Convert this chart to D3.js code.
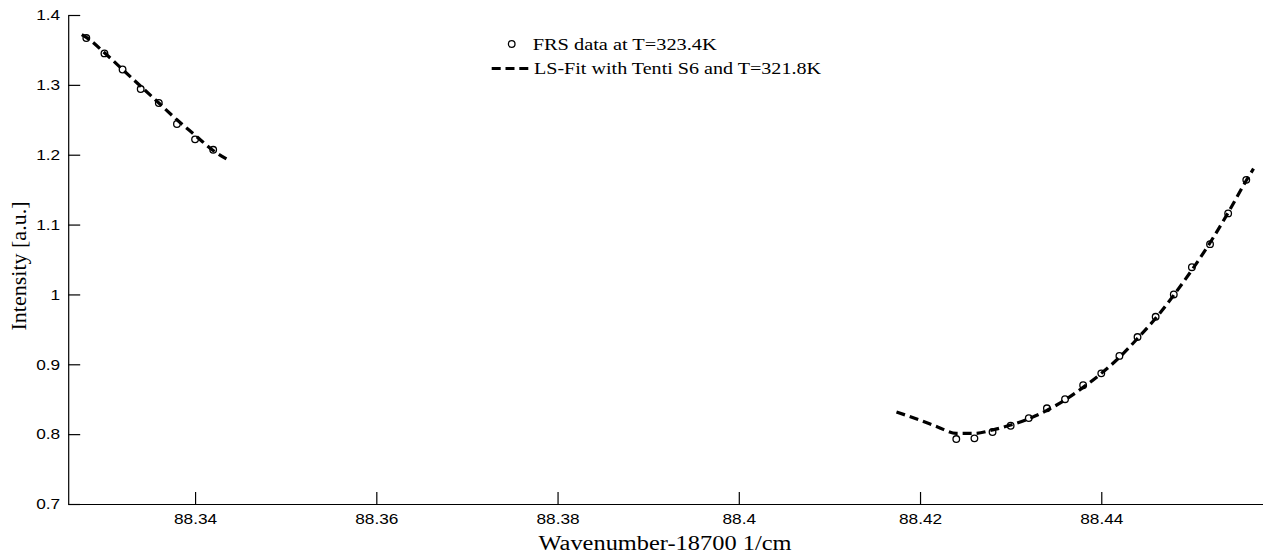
<!DOCTYPE html>
<html>
<head>
<meta charset="utf-8">
<script src="https://cdn.jsdelivr.net/npm/d3@7"></script>
<style>
  html, body { margin: 0; padding: 0; background: #fff; }
  svg { display: block; }
</style>
</head>
<body>
<div id="chart"></div>
<script>
// ---------- data ----------
const xTicks = [88.34, 88.36, 88.38, 88.40, 88.42, 88.44];
const xTickLabels = ["88.34", "88.36", "88.38", "88.4", "88.42", "88.44"];
const yTicks = [0.7, 0.8, 0.9, 1.0, 1.1, 1.2, 1.3, 1.4];
const yTickLabels = ["0.7", "0.8", "0.9", "1", "1.1", "1.2", "1.3", "1.4"];

const dataLeftX = [88.328, 88.330, 88.332, 88.334, 88.336, 88.338, 88.340, 88.342];
const dataLeftY = [1.367, 1.345, 1.322, 1.294, 1.274, 1.244, 1.222, 1.207];
const dataRightX = [88.424, 88.426, 88.428, 88.430, 88.432, 88.434, 88.436, 88.438, 88.440,
                    88.442, 88.444, 88.446, 88.448, 88.450, 88.452, 88.454, 88.456];
const dataRightY = [0.793, 0.794, 0.803, 0.812, 0.823, 0.837, 0.850, 0.870, 0.887,
                    0.912, 0.939, 0.968, 1.000, 1.039, 1.072, 1.116, 1.164];

const fitLeftX = [88.3275, 88.328, 88.330, 88.332, 88.334, 88.336, 88.338, 88.340, 88.342, 88.3436];
const fitLeftY = [1.372, 1.368, 1.346, 1.322, 1.298, 1.274, 1.250, 1.228, 1.206, 1.193];
const fitRightX = [88.4174, 88.420, 88.422, 88.424, 88.426, 88.428, 88.430, 88.432, 88.434, 88.436,
                   88.438, 88.440, 88.442, 88.444, 88.446, 88.448, 88.450, 88.452, 88.454, 88.456, 88.4568];
const fitRightY = [0.8317, 0.820, 0.810, 0.801, 0.801, 0.806, 0.813, 0.822, 0.834, 0.849,
                   0.867, 0.887, 0.910, 0.937, 0.966, 0.999, 1.035, 1.074, 1.117, 1.163, 1.180];

const legendLabels = ["FRS data at T=323.4K", "LS-Fit with Tenti S6 and T=321.8K"];
const xTitle = "Wavenumber-18700 1/cm";
const yTitle = "Intensity [a.u.]";

// ---------- layout ----------
const W = 1263, H = 555;
const svg = d3.select("#chart").append("svg").attr("width", W).attr("height", H);
svg.append("rect").attr("width", W).attr("height", H).attr("fill", "#fff");

const x = d3.scaleLinear().domain([88.326, 88.458]).range([68.2, 1264.4]);
const y = d3.scaleLinear().domain([0.7, 1.4]).range([504, 15]);

function stretch(sel, k) {
  sel.each(function () {
    const w = this.getComputedTextLength();
    this.setAttribute("textLength", w * k);
    this.setAttribute("lengthAdjust", "spacingAndGlyphs");
  });
}

// axes
const xAxis = d3.axisBottom(x).tickValues(xTicks)
  .tickFormat((d, i) => xTickLabels[i]).tickSizeInner(-12).tickSizeOuter(0).tickPadding(9);
const gx = svg.append("g").attr("transform", `translate(0,${y(0.7)})`).call(xAxis);
gx.selectAll("text").attr("font-family", "'Liberation Sans', Arial, sans-serif")
  .attr("font-size", 15).attr("fill", "#000").attr("dy", "0.71em");
gx.selectAll("line, path").attr("stroke", "#000").attr("stroke-width", 1.2);
stretch(gx.selectAll("text"), 1.15);

const yAxis = d3.axisLeft(y).tickValues(yTicks)
  .tickFormat((d, i) => yTickLabels[i]).tickSizeInner(-12).tickSizeOuter(0).tickPadding(8);
const gy = svg.append("g").attr("transform", `translate(${x(88.326)},0)`).call(yAxis);
gy.selectAll("text").attr("font-family", "'Liberation Sans', Arial, sans-serif")
  .attr("font-size", 15).attr("fill", "#000");
gy.selectAll("line, path").attr("stroke", "#000").attr("stroke-width", 1.2);
stretch(gy.selectAll("text"), 1.15);

// titles
const xt = svg.append("text").attr("x", 665).attr("y", 550)
  .attr("text-anchor", "middle").attr("font-family", "'Liberation Serif', 'Times New Roman', serif")
  .attr("font-size", 20).attr("fill", "#000").text(xTitle);
stretch(xt, 1.22);

svg.append("text").attr("transform", "translate(26,266) rotate(-90)")
  .attr("text-anchor", "middle").attr("font-family", "'Liberation Serif', 'Times New Roman', serif")
  .attr("font-size", 22).attr("fill", "#000").text(yTitle);

// data circles
const pts = dataLeftX.map((d, i) => [d, dataLeftY[i]])
  .concat(dataRightX.map((d, i) => [d, dataRightY[i]]));
svg.append("g").selectAll("circle").data(pts).join("circle")
  .attr("cx", d => x(d[0])).attr("cy", d => y(d[1])).attr("r", 3.3)
  .attr("fill", "#fff").attr("stroke", "#000").attr("stroke-width", 1.3);

// fit lines
const line = d3.line().x(d => x(d[0])).y(d => y(d[1])).curve(d3.curveMonotoneX);
[[fitLeftX, fitLeftY], [fitRightX, fitRightY]].forEach(([xs, ys]) => {
  svg.append("path").datum(xs.map((d, i) => [d, ys[i]]))
    .attr("d", line).attr("fill", "none").attr("stroke", "#000")
    .attr("stroke-width", 3.2).attr("stroke-dasharray", "9,5");
});

// legend
const lg = svg.append("g");
lg.append("circle").attr("cx", 511.7).attr("cy", 44).attr("r", 3.3)
  .attr("fill", "#fff").attr("stroke", "#000").attr("stroke-width", 1.3);
lg.append("line").attr("x1", 491.7).attr("x2", 528.3).attr("y1", 68.5).attr("y2", 68.5)
  .attr("stroke", "#000").attr("stroke-width", 3.2).attr("stroke-dasharray", "9,4.8");
const lt1 = lg.append("text").attr("x", 532.7).attr("y", 50)
  .attr("font-family", "'Liberation Serif', 'Times New Roman', serif").attr("font-size", 16)
  .attr("fill", "#000").text(legendLabels[0]);
lt1.attr("textLength", 184).attr("lengthAdjust", "spacingAndGlyphs");
const lt2 = lg.append("text").attr("x", 534).attr("y", 74)
  .attr("font-family", "'Liberation Serif', 'Times New Roman', serif").attr("font-size", 16)
  .attr("fill", "#000").text(legendLabels[1]);
lt2.attr("textLength", 287).attr("lengthAdjust", "spacingAndGlyphs");
</script>
</body>
</html>
